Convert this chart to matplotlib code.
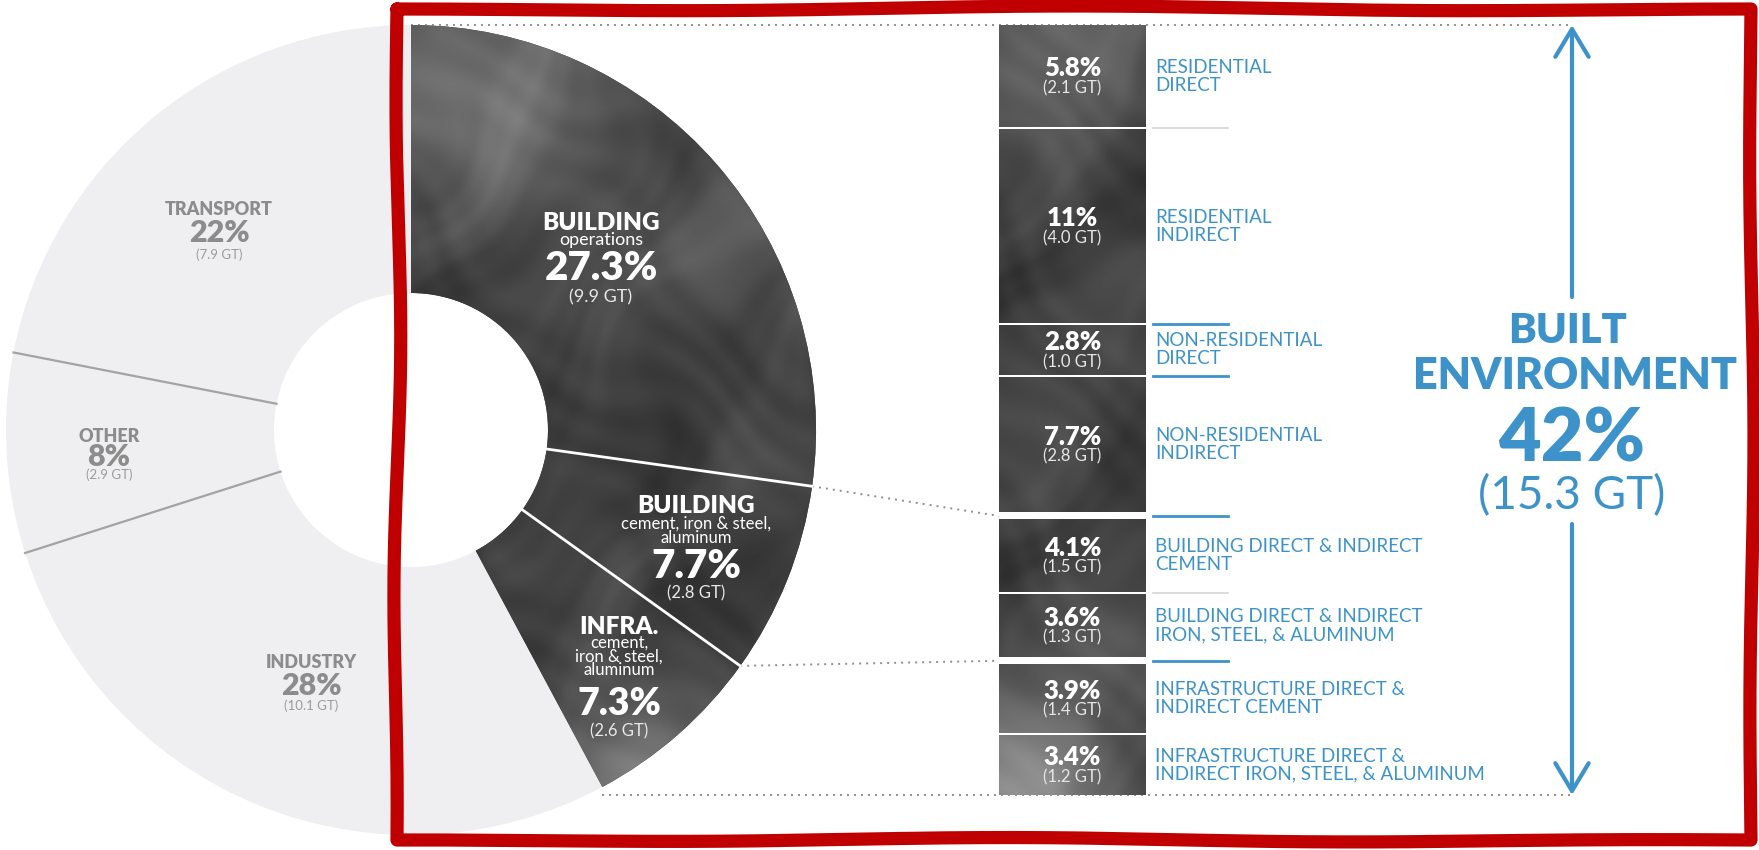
import numpy as np
import matplotlib
matplotlib.use("Agg")
import matplotlib.pyplot as plt

plt.rcParams['font.family'] = ['Lato', 'DejaVu Sans']

# ---- data -------------------------------------------------------------
sector_names = ['BUILDING', 'BUILDING', 'INFRA.', 'INDUSTRY', 'OTHER', 'TRANSPORT']
sector_sub = [['operations'], ['cement, iron & steel,', 'aluminum'],
              ['cement,', 'iron & steel,', 'aluminum'], [], [], []]
sector_pct = [27.3, 7.7, 7.3, 28, 8, 22]
sector_gt = [9.9, 2.8, 2.6, 10.1, 2.9, 7.9]
sector_built = [True, True, True, False, False, False]

detail_pct = [5.8, 11, 2.8, 7.7, 4.1, 3.6, 3.9, 3.4]
detail_gt = [2.1, 4.0, 1.0, 2.8, 1.5, 1.3, 1.4, 1.2]
detail_labels = ['RESIDENTIAL\nDIRECT', 'RESIDENTIAL\nINDIRECT',
                 'NON-RESIDENTIAL\nDIRECT', 'NON-RESIDENTIAL\nINDIRECT',
                 'BUILDING DIRECT & INDIRECT\nCEMENT',
                 'BUILDING DIRECT & INDIRECT\nIRON, STEEL, & ALUMINUM',
                 'INFRASTRUCTURE DIRECT &\nINDIRECT CEMENT',
                 'INFRASTRUCTURE DIRECT &\nINDIRECT IRON, STEEL, & ALUMINUM']

total_title = ['BUILT', 'ENVIRONMENT']
total_pct = 42
total_gt = 15.3

# ---- layout (pixels, y down) -----------------------------------------
W, H = 1759, 850
cx, cy, r_out, r_in = 411, 430, 405, 137
col_x0, col_x1, col_top, col_bot = 999, 1146, 25, 795
gaps = [2, 2, 2, 7, 2, 7, 2]          # space after each column segment
gap_line = ['#d6d6d6', '#3d93c9', '#3d93c9', '#3d93c9', '#d6d6d6', '#3d93c9', None]
blue = '#3d93c9'
grey_txt = '#8c8c8c'
arrow_x = 1572

# label anchor x and line y's for each donut sector
sector_lbl_x = [601, 696, 619, 311, 109, 219]
sector_lbl_y = [[223, 240, 268, 297], [506, 524, 538, 567, 593],
                [627, 643, 657, 670, 704, 731], [662, 686, 706],
                [436, 457, 475], [209, 233, 255]]


def fmt_pct(p):
    return f"{p:g}%"


fig = plt.figure(figsize=(W / 100, H / 100), dpi=100)
ax = fig.add_axes([0, 0, 1, 1])

# cloudy grey texture for the "built environment" pieces (domain-warped waves)
yy, xx = np.mgrid[0:H:2, 0:W:2].astype(float)
u = xx + 28 * np.sin(yy / 47 + 1.0) + 17 * np.sin(xx / 31 + yy / 53)
v = yy + 26 * np.cos(xx / 52 + 0.3) + 15 * np.sin(xx / 29 - yy / 41)
tex = (np.sin(u / 43) * np.cos(v / 49) + 0.55 * np.sin((u + 0.6 * v) / 23 + 2.0)
       + 0.35 * np.sin((u - 1.3 * v) / 14 + 0.7) + 0.18 * np.sin(u / 7.1 + v / 9.7))
tex = (tex - tex.min()) / (tex.max() - tex.min())
tex = 0.17 + 0.16 * tex
for bx, by, amp, sig in [(440, 60, 0.20, 100), (720, 260, 0.12, 60), (640, 780, 0.30, 60),
                         (1050, 40, 0.16, 70), (1020, 800, 0.28, 70), (1100, 660, 0.08, 50),
                         (560, 120, 0.08, 60)]:
    tex += amp * np.exp(-((xx - bx) ** 2 + (yy - by) ** 2) / (2 * sig ** 2))


def textured(patch):
    im = ax.imshow(tex, cmap='gray', vmin=0, vmax=1, extent=(0, W, H, 0),
                   interpolation='bilinear', zorder=2)
    im.set_clip_path(patch)


# ---- donut ----------------------------------------------------------
colors = ['#3a3a3a' if b else '#efeff1' for b in sector_built]
wedges, _ = ax.pie(sector_pct, radius=r_out, center=(cx, cy), startangle=-90,
                   counterclock=True, colors=colors, frame=True,
                   wedgeprops=dict(width=r_out - r_in, linewidth=0))
for w, b in zip(wedges, sector_built):
    if b:
        textured(w)

total = sum(sector_pct)
cum = np.cumsum(sector_pct)
bound_ang = np.deg2rad(-90 + 360 * cum / total)
for i, a in enumerate(bound_ang[:-1]):
    if sector_built[i] and sector_built[i + 1]:
        c, lw = 'white', 2
    elif not sector_built[i] and not sector_built[i + 1]:
        c, lw = '#a3a3a3', 1.6
    else:
        continue
    ax.plot([cx + r_in * np.cos(a), cx + r_out * np.cos(a)],
            [cy + r_in * np.sin(a), cy + r_out * np.sin(a)], color=c, lw=lw, zorder=3)

for i in range(len(sector_names)):
    ys = sector_lbl_y[i]
    x = sector_lbl_x[i]
    if sector_built[i]:
        col, col2 = 'white', '#e8e8e8'
        big = 27 if i == 2 else 29
        name_fs, sub_fs, gt_fs = 17.5, (13 if i == 0 else 12), (13 if i == 0 else 12)
    else:
        col, col2 = grey_txt, '#9b9b9b'
        big, name_fs, sub_fs, gt_fs = 22, 13, 9, 9.5
    lines = [(sector_names[i], name_fs, 'heavy', col)]
    lines += [(s, sub_fs, 'normal', col) for s in sector_sub[i]]
    lines += [(fmt_pct(sector_pct[i]), big, 'heavy', col),
              (f"({sector_gt[i]:.1f} GT)", gt_fs, 'normal', col2)]
    for (s, fs, fw, c), y in zip(lines, ys):
        ax.text(x, y, s, fontsize=fs, fontweight=fw, color=c,
                ha='center', va='center', zorder=5)

# ---- stacked column ------------------------------------------------
scale = (col_bot - col_top - sum(gaps)) / sum(detail_pct)
heights = [p * scale for p in detail_pct]
bottoms = [col_top + sum(heights[:i]) + sum(gaps[:i]) for i in range(len(heights))]
bars = ax.bar([(col_x0 + col_x1) / 2] * len(heights), heights, bottom=bottoms,
              width=col_x1 - col_x0, color='#3a3a3a', linewidth=0, zorder=2)
for b in bars:
    textured(b)

for i, (b0, h) in enumerate(zip(bottoms, heights)):
    mid = b0 + h / 2
    ax.text((col_x0 + col_x1) / 2, mid - 8, fmt_pct(detail_pct[i]), fontsize=18.5,
            fontweight='heavy', color='white', ha='center', va='center', zorder=5)
    ax.text((col_x0 + col_x1) / 2, mid + 12, f"({detail_gt[i]:.1f} GT)", fontsize=12,
            color='#e6e6e6', ha='center', va='center', zorder=5)
    l1, l2 = detail_labels[i].split('\n')
    ax.text(col_x1 + 9, mid - 9, l1, fontsize=13.5, color=blue, ha='left', va='center')
    ax.text(col_x1 + 9, mid + 9, l2, fontsize=13.5, color=blue, ha='left', va='center')

gap_y = [bottoms[i] + heights[i] + gaps[i] / 2 for i in range(len(gaps))]
for y, c in zip(gap_y, gap_line):
    if c:
        ax.plot([col_x1 + 7, col_x1 + 82], [y, y], color=c,
                lw=2 if c == blue else 1.2, zorder=3)

# ---- dotted guides ---------------------------------------------------
dot = dict(color='#8f8f8f', lw=1.4, linestyle=(0, (1, 2.6)), zorder=1)
ax.plot([cx, arrow_x], [col_top, col_top], **dot)
end_a = bound_ang[2]
ax.plot([cx + r_out * np.cos(end_a), arrow_x], [col_bot, col_bot], **dot)
for k, gi in [(0, 3), (1, 5)]:
    a = bound_ang[k]
    ax.plot([cx + r_out * np.cos(a), col_x0], [cy + r_out * np.sin(a), gap_y[gi]], **dot)

# ---- built environment total ----------------------------------------
ax.text(arrow_x - 4, 331, total_title[0], fontsize=30, fontweight='heavy', color=blue,
        ha='center', va='center')
ax.text(arrow_x + 3, 376, total_title[1], fontsize=31, fontweight='heavy', color=blue,
        ha='center', va='center')
ax.text(arrow_x, 440, fmt_pct(total_pct), fontsize=53, fontweight='heavy', color=blue,
        ha='center', va='center')
ax.text(arrow_x, 496, f"({total_gt:.1f} GT)", fontsize=33, fontweight='normal', color=blue,
        ha='center', va='center')

arr = dict(arrowstyle='->,head_length=2.0,head_width=1.2', color=blue, lw=3,
           shrinkA=0, shrinkB=0, mutation_scale=10)
ax.annotate('', xy=(arrow_x, col_top), xytext=(arrow_x, 297), arrowprops=arr)
ax.annotate('', xy=(arrow_x, col_bot), xytext=(arrow_x, 524), arrowprops=arr)

# ---- hand drawn red frame -------------------------------------------
def wavy(p0, p1, amp, freq, phase, n=80):
    t = np.linspace(0, 1, n)
    dx, dy = p1[0] - p0[0], p1[1] - p0[1]
    ln = np.hypot(dx, dy)
    off = amp * np.sin(2 * np.pi * freq * t + phase) * np.sin(np.pi * t)
    return p0[0] + dx * t - dy / ln * off, p0[1] + dy * t + dx / ln * off


corners = [(397, 9), (1751, 9), (1751, 840), (397, 840), (397, 9)]
fx, fy = [], []
for k, (amp, freq) in enumerate([(3, 1.5), (3, 1.2), (2.5, 1.8), (4, 1.4)]):
    x_, y_ = wavy(corners[k], corners[k + 1], amp, freq, 0.8 * k)
    fx.extend(x_)
    fy.extend(y_)
ax.plot(fx, fy, color='#c00000', lw=9.5, solid_joinstyle='round',
        solid_capstyle='round', zorder=10, clip_on=False)

ax.set_xlim(0, W)
ax.set_ylim(H, 0)
ax.set_aspect('equal')
ax.axis('off')
fig.savefig('out.png', dpi=100, facecolor='white')
